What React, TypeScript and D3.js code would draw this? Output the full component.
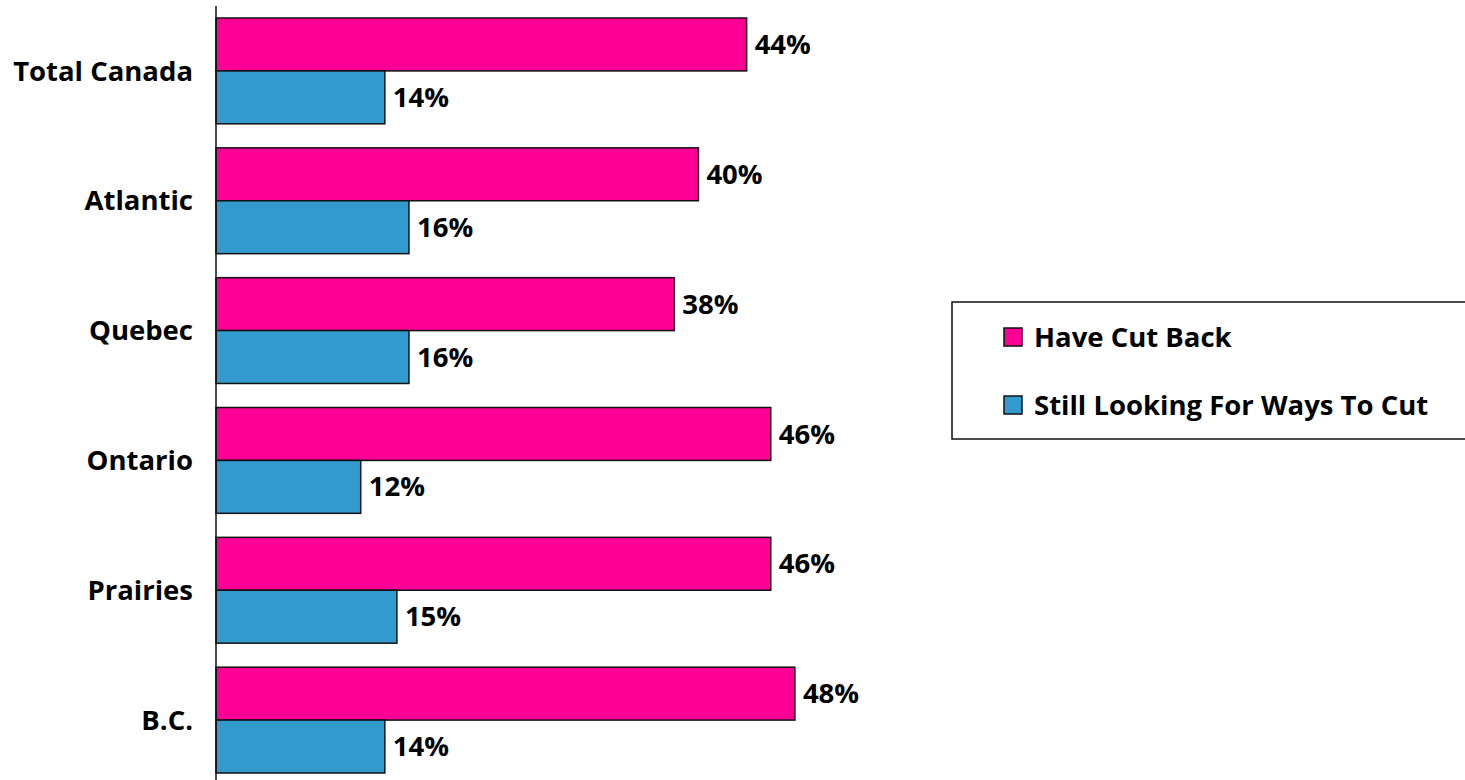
import * as d3 from 'd3';
import { useEffect, useRef } from 'react';

const regions = ['Total Canada', 'Atlantic', 'Quebec', 'Ontario', 'Prairies', 'B.C.'];
const seriesNames = ['Have Cut Back', 'Still Looking For Ways To Cut'];
const haveCutBack = [44, 40, 38, 46, 46, 48];
const stillLooking = [14, 16, 16, 12, 15, 14];
const seriesColors = ['#FF0096', '#339ACD'];

const dimensions = {
  width: 1465,
  height: 780,
};

const font = '"Open Sans", "Noto Sans", sans-serif';
const fontSize = '27.5px';

export default function App() {
  const svgRef = useRef(null);

  useEffect(() => {
    const svg = d3.select(svgRef.current);
    svg.selectAll('*').remove();

    const yScale = d3
      .scaleBand()
      .domain(regions)
      .range([6, 785])
      .paddingInner(0.185)
      .paddingOuter(0.0925);

    const inner = d3
      .scaleBand()
      .domain(seriesNames)
      .range([0, yScale.bandwidth()]);

    const xScale = d3.scaleLinear().domain([0, 50]).range([216, 819]);

    const seriesValues = [haveCutBack, stillLooking];

    seriesNames.forEach((name, si) => {
      const g = svg.append('g');
      g.selectAll('rect')
        .data(regions)
        .enter()
        .append('rect')
        .attr('x', xScale(0))
        .attr('y', (d) => (yScale(d) as number) + (inner(name) as number))
        .attr('width', (d, i) => xScale(seriesValues[si][i]) - xScale(0))
        .attr('height', inner.bandwidth())
        .style('fill', seriesColors[si])
        .style('stroke', '#111')
        .style('stroke-width', 1.5);

      g.selectAll('text')
        .data(regions)
        .enter()
        .append('text')
        .attr('x', (d, i) => xScale(seriesValues[si][i]) + 8)
        .attr('y', (d) => (yScale(d) as number) + (inner(name) as number) + inner.bandwidth() / 2)
        .attr('dy', '0.35em')
        .style('font-family', font)
        .style('font-weight', 'bold')
        .style('font-size', fontSize)
        .style('fill', '#000')
        .text((d, i) => seriesValues[si][i] + '%');
    });

    // category labels
    svg
      .append('g')
      .selectAll('text')
      .data(regions)
      .enter()
      .append('text')
      .attr('x', 193)
      .attr('y', (d) => (yScale(d) as number) + yScale.bandwidth() / 2)
      .attr('dy', '0.35em')
      .attr('text-anchor', 'end')
      .style('font-family', font)
      .style('font-weight', 'bold')
      .style('font-size', fontSize)
      .text((d) => d);

    // axis line
    svg
      .append('line')
      .attr('x1', xScale(0))
      .attr('x2', xScale(0))
      .attr('y1', 6)
      .attr('y2', 780)
      .style('stroke', '#111')
      .style('stroke-width', 1.5);

    // legend
    const legend = svg.append('g');
    legend
      .append('rect')
      .attr('x', 952)
      .attr('y', 302)
      .attr('width', 530)
      .attr('height', 137)
      .style('fill', '#fff')
      .style('stroke', '#111')
      .style('stroke-width', 1.5);

    seriesNames.forEach((name, i) => {
      const cy = 337 + i * 68;
      legend
        .append('rect')
        .attr('x', 1004)
        .attr('y', cy - 9)
        .attr('width', 18)
        .attr('height', 18)
        .style('fill', seriesColors[i])
        .style('stroke', '#111')
        .style('stroke-width', 1.5);
      legend
        .append('text')
        .attr('x', 1034)
        .attr('y', cy)
        .attr('dy', '0.35em')
        .style('font-family', font)
        .style('font-weight', 'bold')
        .style('font-size', fontSize)
        .text(name);
    });
  }, []);

  return (
    <div style={{ position: 'absolute', left: 0, top: 0 }}>
      <svg ref={svgRef} width={dimensions.width} height={dimensions.height}></svg>
    </div>
  );
}
